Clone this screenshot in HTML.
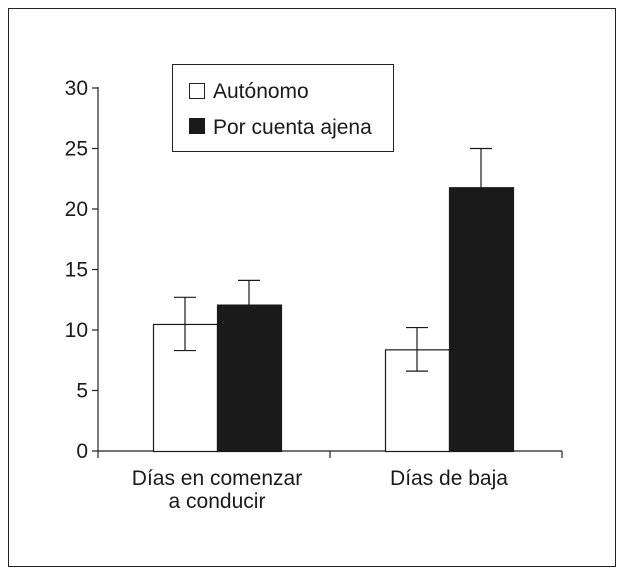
<!DOCTYPE html>
<html><head><meta charset="utf-8"><style>
body{margin:0;background:#fff;}
svg text{font-family:"Liberation Sans",Arial,sans-serif;fill:#1a1a1a;}
</style></head><body>
<svg width="625" height="576" viewBox="0 0 625 576">
<rect x="8.5" y="8.5" width="607" height="558" fill="#fff" stroke="#222" stroke-width="1"/>
<g id="axes"></g>
<g id="bars"></g>
<g>
<rect x="172.5" y="64.5" width="221" height="87" fill="#fff" stroke="#222"/>
<rect x="189.5" y="83.5" width="15" height="15" fill="#fff" stroke="#222"/>
<text x="213" y="98" font-size="21">Autónomo</text>
<rect x="189" y="118" width="16" height="16" fill="#1a1a1a"/>
<text x="213" y="134" font-size="21">Por cuenta ajena</text>
</g>
</svg>
<script>
const categories = ["Días en comenzar|a conducir", "Días de baja"];
const autonomo = [10.5, 8.4];
const autonomoErr = [2.2, 1.8];
const ajena = [12.1, 21.8];
const ajenaErr = [2.0, 3.2];
const yTicks = [0, 5, 10, 15, 20, 25, 30];

const NS = "http://www.w3.org/2000/svg";
const x0 = 98, x1 = 562, y0 = 451, yTop = 88, yMax = 30;
const yS = v => y0 - v / yMax * (y0 - yTop);
const groupW = (x1 - x0) / categories.length;
const barW = 64;
function mk(tag, attrs, parent) {
  const e = document.createElementNS(NS, tag);
  for (const k in attrs) e.setAttribute(k, attrs[k]);
  parent.appendChild(e); return e;
}
const axes = document.getElementById('axes');
const bars = document.getElementById('bars');
let e = mk('line', {x1: x0, y1: yTop - 1, x2: x0, y2: y0, stroke: '#222', 'stroke-width': 1.2}, axes);


yTicks.forEach(t => {
  const y = yS(t);
  let l = mk('line', {x1: x0 - 6, y1: y, x2: x0, y2: y, stroke: '#222', 'stroke-width': 1.2}, axes);
  
  
  let tx = mk('text', {x: x0 - 10, y: y + 7, 'font-size': 21, 'text-anchor': 'end'}, axes);
  tx.textContent = t;
  
  
});
categories.forEach((c, i) => {
  const gx = x0 + i * groupW;
  const cx = gx + groupW / 2 + 3;
  let t1 = mk('line', {x1: gx, y1: y0, x2: gx, y2: y0 + 7, stroke: '#222', 'stroke-width': 1.2}, axes);
  
  
  const vals = [[autonomo[i], autonomoErr[i], '#fff', 'bar-autonomo'], [ajena[i], ajenaErr[i], '#1a1a1a', 'bar-ajena']];
  vals.forEach((v, j) => {
    const bx = cx - barW + j * barW;
    const top = yS(v[0]);
    let r = mk('rect', {x: bx + 0.5, y: top + 0.5, width: barW, height: y0 - top, fill: v[2], stroke: '#1a1a1a', 'stroke-width': 1.2}, bars);
    
    
    const ex = bx + barW / 2;
    let el = mk('path', {d: `M${ex},${yS(v[0] + v[1])}V${yS(v[0] - v[1])}M${ex - 11},${yS(v[0] + v[1])}H${ex + 11}M${ex - 11},${yS(v[0] - v[1])}H${ex + 11}`, stroke: '#1a1a1a', 'stroke-width': 1.2, fill: 'none'}, bars);
    
    
  });
  const lines = c.split('|');
  lines.forEach((ln, k) => {
    let tx = mk('text', {x: cx, y: 485 + k * 23, 'font-size': 21, 'text-anchor': 'middle'}, axes);
    tx.textContent = ln;
    
    
  });
});
let t2 = mk('line', {x1: x1, y1: y0, x2: x1, y2: y0 + 7, stroke: '#222', 'stroke-width': 1.2}, axes);


let xa = mk('line', {x1: x0, y1: y0, x2: x1, y2: y0, stroke: '#222', 'stroke-width': 1.2}, axes);


</script>
</body></html>
